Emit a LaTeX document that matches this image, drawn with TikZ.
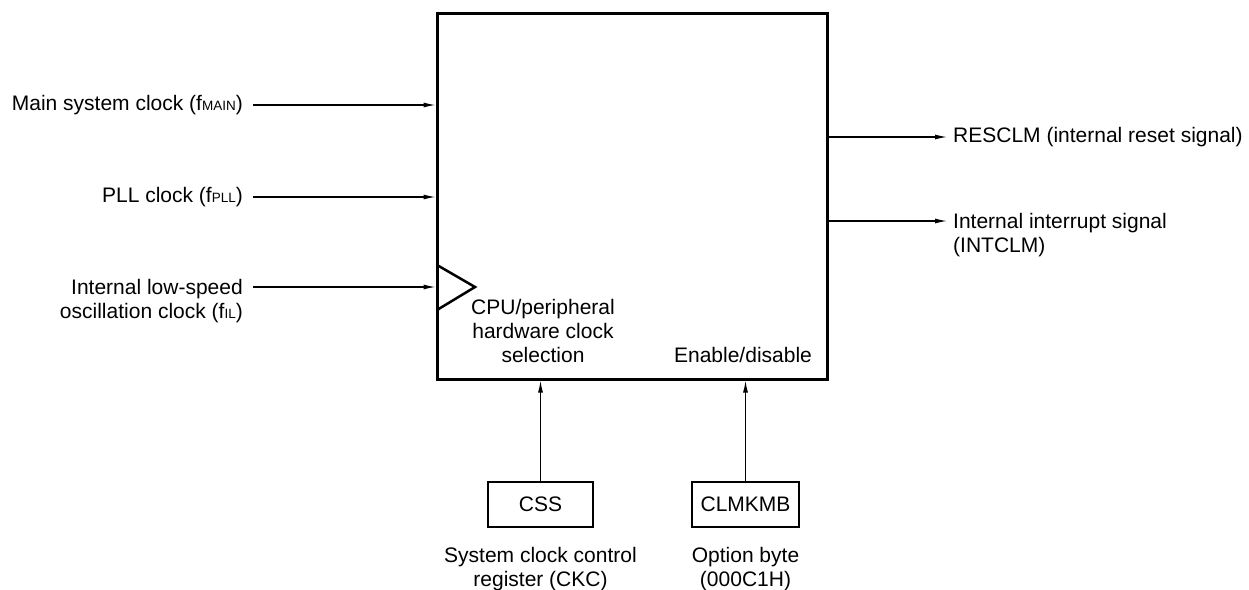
\documentclass[tikz,border=0pt]{standalone}
\usepackage{fontspec}
\setmainfont{Liberation Sans}
\usetikzlibrary{positioning,arrows.meta}
\newcommand{\fsub}[1]{{\fontsize{13.5}{14}\selectfont #1}}
\tikzset{
  sig/.style={-{Latex[length=12pt,width=5pt]},line width=1.2pt},
  lbl/.style={inner sep=0pt,font=\fontsize{21}{24}\selectfont},
  regbox/.style={draw,line width=2.6pt,minimum height=45pt,inner sep=0pt,font=\fontsize{21}{24}\selectfont}
}

\begin{document}
\begin{tikzpicture}[x=1pt,y=-1pt]
  \useasboundingbox (0,0) rectangle (1249,589);
  % clock monitor block
  \node[draw,line width=3pt,minimum width=390pt,minimum height=366pt,inner sep=0pt] (clm) at (632,196) {};
  \draw[line width=2.5pt,line join=miter] (437,265) -- (475,287) -- (437,310);
  \node[lbl,align=center] (cpusel) at (543,331) {CPU/peripheral\\hardware clock\\selection};
  \node[lbl] (endis) at (743,355) {Enable/disable};

  % clock inputs
  \coordinate (inMain) at (253,105);
  \coordinate (inPll) at (253,197);
  \coordinate (inIl) at (253,287);
  \node[lbl,left=10pt of inMain] (main) {Main system clock (f\fsub{MAIN})};
  \node[lbl,left=10pt of inPll] (pll) {PLL clock (f\fsub{PLL})};
  \node[lbl,align=right,below left=-8pt and 10pt of inIl] (il) {Internal low-speed\\oscillation clock (f\fsub{IL})};
  \draw[sig] (inMain) -- (inMain -| clm.west);
  \draw[sig] (inPll) -- (inPll -| clm.west);
  \draw[sig] (inIl) -- (inIl -| clm.west);

  % outputs
  \coordinate (outRes) at (947,137);
  \coordinate (outInt) at (947,221);
  \draw[sig] (outRes -| clm.east) -- (outRes);
  \draw[sig] (outInt -| clm.east) -- (outInt);
  \node[lbl,right=6pt of outRes] (res) {RESCLM (internal reset signal)};
  \node[lbl,align=left,below right=-8pt and 6pt of outInt] (int) {Internal interrupt signal\\(INTCLM)};

  % control bits
  \node[regbox,minimum width=105pt] (css) at (540.5,504.5) {CSS};
  \node[regbox,minimum width=107pt] (clmkmb) at (745.5,504.5) {CLMKMB};
  \draw[sig] (css) -- (css |- clm.south);
  \draw[sig] (clmkmb) -- (clmkmb |- clm.south);
  \node[lbl,align=center,below=19pt of css] (ckc) {System clock control\\register (CKC)};
  \node[lbl,align=center,below=19pt of clmkmb] (optb) {Option byte\\(000C1H)};
\end{tikzpicture}
\end{document}
